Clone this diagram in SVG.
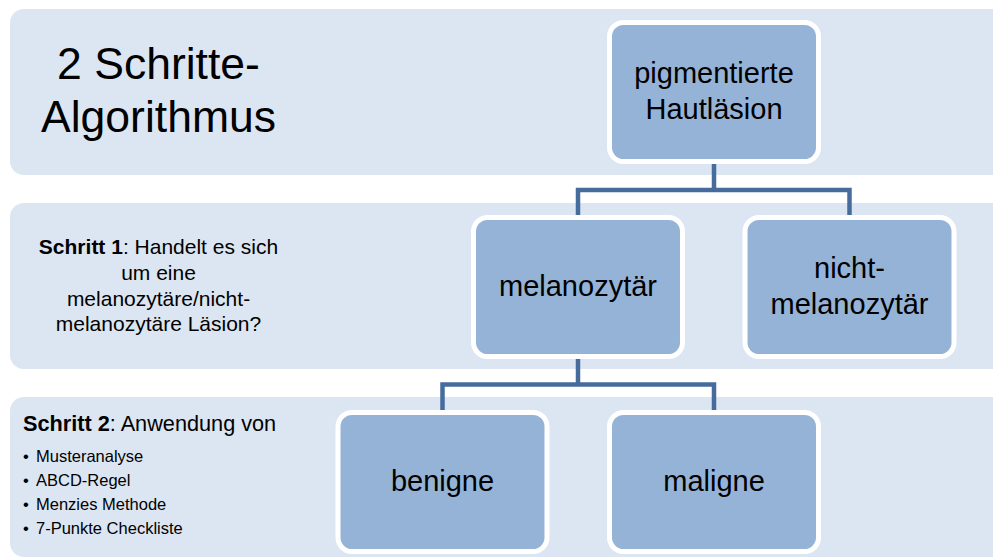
<svg xmlns="http://www.w3.org/2000/svg" width="993" height="558" viewBox="0 0 993 558">
<style>
.band{fill:#DCE6F2}
.node{fill:#95B3D7;stroke:#FFFFFF;stroke-width:5}
.conn{fill:none;stroke:#466C9E;stroke-width:4.5}
text{font-family:"Liberation Sans",Arial,sans-serif;fill:#000}
.nt{font-size:29px;text-anchor:middle}
.lt{font-size:21px}
.bl{font-size:16.5px}
</style>
<rect width="993" height="558" fill="#FFFFFF"/>
<g id="band1"><rect class="band" x="10" y="9" width="1000" height="166" rx="14"/>
<text x="158.5" y="79" font-size="44.5" text-anchor="middle">2 Schritte-</text>
<text x="158.5" y="132" font-size="44.5" text-anchor="middle">Algorithmus</text></g>
<g id="band2"><rect class="band" x="10" y="203" width="1000" height="166" rx="14"/>
<text class="lt" text-anchor="middle"><tspan x="158.5" y="254"><tspan font-weight="bold">Schritt 1</tspan>: Handelt es sich</tspan><tspan x="158.5" y="280">um eine</tspan><tspan x="158.5" y="306">melanozytäre/nicht-</tspan><tspan x="158.5" y="331">melanozytäre Läsion?</tspan></text></g>
<g id="band3"><rect class="band" x="10" y="397" width="1000" height="160" rx="14"/>
<text x="23" y="431" font-size="21.7"><tspan font-weight="bold">Schritt 2</tspan>: Anwendung von</text>
<g class="bl"><text x="23" y="462">•</text><text x="36" y="462">Musteranalyse</text>
<text x="23" y="486">•</text><text x="36" y="486">ABCD-Regel</text>
<text x="23" y="510">•</text><text x="36" y="510">Menzies Methode</text>
<text x="23" y="534">•</text><text x="36" y="534">7-Punkte Checkliste</text></g></g>
<g id="connectors">
<path class="conn" d="M714 162 V190 H578 V217 M714 190 H849.5 V217"/>
<path class="conn" d="M578 357 V384.5 H442.5 V412 M578 384.5 H714 V412"/>
</g>
<g id="node-pigmentierte"><rect class="node" x="609.5" y="22.5" width="209" height="139" rx="14"/>
<text class="nt" x="714" y="83">pigmentierte</text><text class="nt" x="714" y="119">Hautläsion</text></g>
<g id="node-melanozytaer"><rect class="node" x="473.5" y="217.5" width="209" height="139" rx="14"/>
<text class="nt" x="578" y="296">melanozytär</text></g>
<g id="node-nicht-melanozytaer"><rect class="node" x="745" y="217.5" width="209" height="139" rx="14"/>
<text class="nt" x="849.5" y="278">nicht-</text><text class="nt" x="849.5" y="314">melanozytär</text></g>
<g id="node-benigne"><rect class="node" x="338" y="412.5" width="209" height="139" rx="14"/>
<text class="nt" x="442.5" y="491">benigne</text></g>
<g id="node-maligne"><rect class="node" x="609.5" y="412.5" width="209" height="139" rx="14"/>
<text class="nt" x="714" y="491">maligne</text></g>
</svg>
